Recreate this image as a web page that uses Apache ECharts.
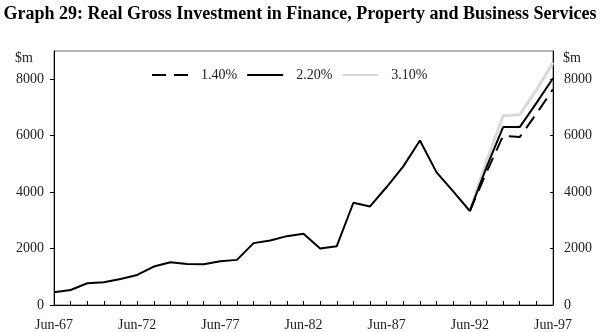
<!DOCTYPE html>
<html>
<head>
<meta charset="utf-8">
<script src="https://cdn.jsdelivr.net/npm/echarts@6/dist/echarts.min.js"></script>
<style>
  html, body { margin: 0; padding: 0; background: #fff; }
  #chart { width: 600px; height: 332px; }
</style>
</head>
<body>
<div id="chart"></div>
<script>
// Financial years, June quarter
var categories = ['Jun-67','Jun-68','Jun-69','Jun-70','Jun-71','Jun-72','Jun-73','Jun-74','Jun-75','Jun-76',
  'Jun-77','Jun-78','Jun-79','Jun-80','Jun-81','Jun-82','Jun-83','Jun-84','Jun-85','Jun-86',
  'Jun-87','Jun-88','Jun-89','Jun-90','Jun-91','Jun-92','Jun-93','Jun-94','Jun-95','Jun-96','Jun-97'];

// Actual investment, Jun-67 to Jun-92 ($m)
var actual = [451, 533, 770, 806, 924, 1066, 1361, 1515, 1456, 1444, 1551, 1599, 2192, 2285, 2440,
  2522, 2000, 2085, 3623, 3493, 4181, 4913, 5826, 4700, 4028, 3330];

// Projections, Jun-92 to Jun-97 ($m)
var proj140 = [3330, 4700, 5996, 5951, 6774, 7646];
var proj220 = [3330, 4875, 6304, 6304, 7152, 8035];
var proj310 = [3330, 5084, 6703, 6740, 7622, 8587];

var yTicks = [0, 2000, 4000, 6000, 8000];
var scenarioNames = ['1.40%', '2.20%', '3.10%'];

function padActual(arr) {
  var out = arr.slice();
  while (out.length < categories.length) out.push(null);
  return out;
}
function padProjection(arr) {
  var out = [];
  for (var i = 0; i < categories.length - arr.length; i++) out.push(null);
  return out.concat(arr);
}

var FONT = '"Liberation Serif", "Times New Roman", serif';
var labelStyle = { fontFamily: FONT, fontSize: 14, color: '#222' };

var chart = echarts.init(document.getElementById('chart'), null, { renderer: 'canvas' });

function yAxisDef(pos) {
  return {
    type: 'value',
    position: pos,
    min: 0,
    max: 9000,
    interval: 1000,
    axisLine: { show: true, lineStyle: { color: '#000', width: 1 } },
    axisTick: { show: true, inside: pos === 'right', length: pos === 'right' ? 3 : 4,
      lineStyle: { color: '#000' }, customValues: yTicks },
    axisLabel: Object.assign({
      margin: pos === 'right' ? 11 : 10,
      customValues: yTicks,
      formatter: function (v) { return String(v); }
    }, labelStyle),
    splitLine: { show: false }
  };
}

chart.setOption({
  animation: false,
  backgroundColor: '#fff',
  title: {
    text: 'Graph 29: Real Gross Investment in Finance, Property and Business Services',
    left: 'center',
    top: 0,
    textStyle: { fontFamily: FONT, fontSize: 18, fontWeight: 'bold', color: '#000' }
  },
  legend: {
    data: scenarioNames,
    left: 151,
    top: 68,
    padding: 0,
    itemWidth: 36,
    itemHeight: 14,
    itemGap: 9,
    itemStyle: { color: 'rgba(0,0,0,0)', borderColor: 'rgba(0,0,0,0)', borderWidth: 0 },
    textStyle: { fontFamily: FONT, fontSize: 14, color: '#222', padding: [0, 0, 0, 8] }
  },
  grid: {
    left: 54, right: 47, top: 51, bottom: 27,
    show: true, borderColor: '#666', borderWidth: 1, backgroundColor: 'transparent'
  },
  xAxis: {
    type: 'category',
    data: categories,
    boundaryGap: false,
    axisLine: { lineStyle: { color: '#000', width: 1 } },
    axisTick: { inside: true, length: 4, interval: 0, lineStyle: { color: '#000' } },
    axisLabel: Object.assign({ interval: 4, margin: 13 }, labelStyle)
  },
  yAxis: [yAxisDef('left'), yAxisDef('right')],
  graphic: [
    { type: 'text', left: 15, top: 51, style: { text: '$m', font: '14px ' + FONT, fill: '#222' } },
    { type: 'text', left: 563, top: 51, style: { text: '$m', font: '14px ' + FONT, fill: '#222' } }
  ],
  series: [
    {
      name: 'actual', type: 'line', data: padActual(actual), symbol: 'none',
      lineStyle: { color: '#000', width: 2 }, z: 4
    },
    {
      name: '3.10%', type: 'line', data: padProjection(proj310), symbol: 'none',
      lineStyle: { color: '#d9d9d9', width: 3 }, itemStyle: { color: '#d9d9d9' }, z: 2
    },
    {
      name: '2.20%', type: 'line', data: padProjection(proj220), symbol: 'none',
      lineStyle: { color: '#000', width: 2 }, itemStyle: { color: '#000' }, z: 3
    },
    {
      name: '1.40%', type: 'line', data: padProjection(proj140), symbol: 'none',
      lineStyle: { color: '#000', width: 2, type: [14, 8] }, itemStyle: { color: '#000' }, z: 3
    }
  ]
});
</script>
</body>
</html>
